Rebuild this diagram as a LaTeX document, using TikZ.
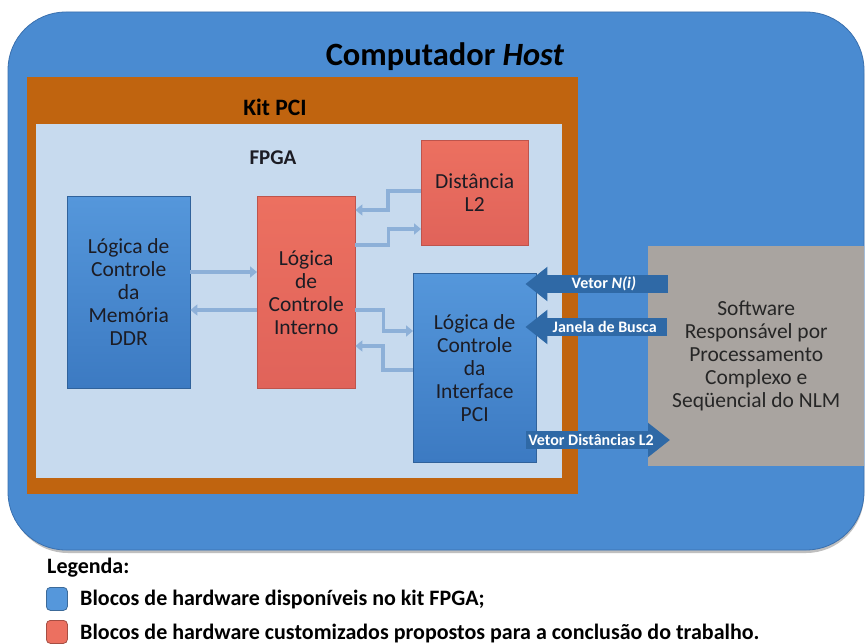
\documentclass[tikz,border=0pt]{standalone}
\usepackage{fontspec}
\setmainfont{Carlito}
\usetikzlibrary{arrows.meta,calc}

\definecolor{hostblue}{HTML}{4A8BD1}
\definecolor{hostedge}{HTML}{3A70AE}
\definecolor{kitorange}{HTML}{C0640F}
\definecolor{fpgabg}{HTML}{C7DAEE}
\definecolor{hwtop}{HTML}{5597DB}
\definecolor{hwbot}{HTML}{3C7AC2}
\definecolor{cstop}{HTML}{EC7060}
\definecolor{csbot}{HTML}{E0635A}
\definecolor{swgray}{HTML}{A9A4A0}
\definecolor{wire}{HTML}{8DB0D8}
\definecolor{busblue}{HTML}{2F69A6}
\definecolor{txtdark}{HTML}{1C1C24}

\tikzset{
  x=1pt, y=-1pt,
  blocktext/.style={align=center, font=\fontsize{21.5}{23}\selectfont, text=txtdark, inner sep=0pt},
  hwblock/.style={blocktext, draw=hwbot!80!black, line width=0.4pt, top color=hwtop, bottom color=hwbot,
    anchor=north west},
  csblock/.style={blocktext, draw=csbot!85!black, line width=0.4pt, top color=cstop, bottom color=csbot,
    anchor=north west},
  swblock/.style={blocktext, fill=swgray, anchor=north west, text=black!85},
  wirearrow/.style={draw=wire, line width=3.5pt, -{Triangle[length=7pt,width=11pt]}},
  busarrow/.style={draw=busblue, line width=18pt, -{Triangle[length=22pt,width=33pt]}},
  buslabel/.style={text=white, font=\fontsize{16}{18}\selectfont\bfseries},
  heading/.style={font=\fontsize{22}{24}\selectfont\bfseries, text=txtdark},
  legendbox/.style={draw=#1!70!black, fill=#1, rounded corners=4pt, line width=0.8pt,
    minimum width=21pt, minimum height=23pt, inner sep=0pt, anchor=north west},
  legendtext/.style={font=\fontsize{22}{24}\selectfont\bfseries, anchor=west, text=black, inner sep=0pt},
}

\begin{document}
\begin{tikzpicture}
\useasboundingbox (0,0) rectangle (866,644);
\fill[white] (0,0) rectangle (866,644);

% host computer enclosure
\fill[black!25, rounded corners=58pt] (10,16) rectangle (864,553);
\fill[hostblue, draw=hostedge, line width=0.8pt, rounded corners=58pt] (8,12) rectangle (864,550);
\node[font=\fontsize{32.5}{34}\selectfont\bfseries, text=black] (host) at (445,57)
  {Computador \textit{Host}};

% PCI kit and FPGA
\fill[kitorange] (27,77) rectangle (578,494);
\node[font=\fontsize{23.5}{25}\selectfont\bfseries, text=black] (kit) at (275,107) {Kit PCI};
\fill[fpgabg] (36,124) rectangle (562,478);
\node[heading, font=\fontsize{21}{23}\selectfont\bfseries] (fpga) at (273,158) {FPGA};

% hardware blocks
\node[hwblock, minimum width=123pt, minimum height=192pt] (ddr) at (67,196)
  {Lógica de\\Controle\\da\\Memória\\DDR};
\node[csblock, minimum width=98pt, minimum height=192pt] (ctl) at (257,196)
  {Lógica\\de\\Controle\\Interno};
\node[csblock, minimum width=107pt, minimum height=105pt] (dist) at (421,140)
  {Distância\\L2};
\node[hwblock, minimum width=123pt, minimum height=189pt] (pci) at (413,273)
  {Lógica de\\Controle\\da\\Interface\\PCI};

% host software
\node[swblock, minimum width=216pt, minimum height=220pt] (sw) at (648,246)
  {Software\\Responsável por\\Processamento\\Complexo e\\Seqüencial do NLM};

% internal FPGA links
\draw[wirearrow] ($(ddr.north east)+(0,76)$) -- ($(ctl.north west)+(0,76)$);
\draw[wirearrow] ($(ctl.north west)+(0,114)$) -- ($(ddr.north east)+(0,114)$);
\draw[wirearrow] ($(dist.north west)+(0,51)$) -- ++(-33,0) |- ($(ctl.north east)+(0,14)$);
\draw[wirearrow] ($(ctl.north east)+(0,49)$) -- ++(33,0) |- ($(dist.north west)+(0,89)$);
\draw[wirearrow] ($(ctl.north east)+(0,114)$) -- ++(28,0) |- ($(pci.north west)+(0,58)$);
\draw[wirearrow] ($(pci.north west)+(0,97)$) -- ++(-30,0) |- ($(ctl.north east)+(0,150)$);

% PCI bus transfers between software and FPGA
\draw[busarrow] ($(sw.north west)+(20,38)$) -- ($(pci.north east)+(-11,11)$)
  node[buslabel, pos=0.45] (ni) {Vetor \textit{N(i)}};
\draw[busarrow] ($(sw.north west)+(19,81)$) -- ($(pci.north east)+(-11,54)$)
  node[buslabel, pos=0.44] (jb) {Janela de Busca};
\draw[busarrow] ($(pci.north east)+(-10,167)$) -- ($(sw.north west)+(22,194)$)
  node[buslabel, pos=0.45] (vd) {Vetor Distâncias L2};

% legend
\node[font=\fontsize{22}{24}\selectfont\bfseries, anchor=west, inner sep=0pt] (leg) at (47,568) {Legenda:};
\node[legendbox=hwtop] (lb1) at (46,587) {};
\node[legendtext] (lt1) at (80,600) {Blocos de hardware disponíveis no kit FPGA;};
\node[legendbox=cstop] (lb2) at (46,620) {};
\node[legendtext] (lt2) at (80,634) {Blocos de hardware customizados propostos para a conclusão do trabalho.};
\end{tikzpicture}
\end{document}
